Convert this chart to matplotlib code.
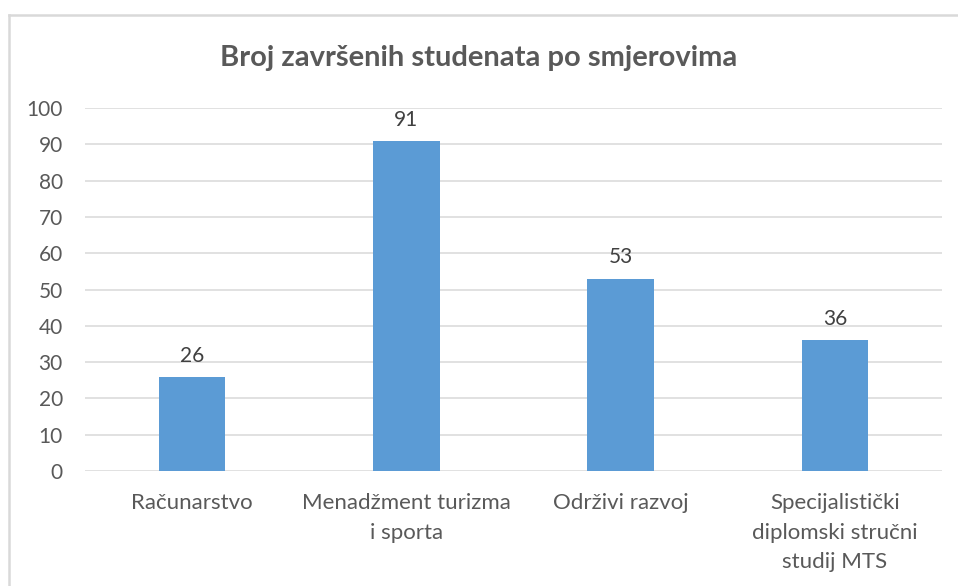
import matplotlib.pyplot as plt
from matplotlib.lines import Line2D

# podaci
smjerovi = ["Računarstvo", "Menadžment turizma\ni sporta", "Održivi razvoj",
            "Specijalistički\ndiplomski stručni\nstudij MTS"]
broj_studenata = [26, 91, 53, 36]
y_ticks = list(range(0, 101, 10))

W, H = 958, 586
plt.rcParams['font.family'] = ['Lato', 'DejaVu Sans']
text_color = "#595959"

fig = plt.figure(figsize=(W / 100, H / 100), dpi=100)
ax = fig.add_axes([85 / W, (H - 471) / H, (942 - 85) / W, (471 - 108) / H])

x = range(len(smjerovi))
bars = ax.bar(x, broj_studenata, width=0.31, color="#5B9BD5", zorder=3)

ax.set_ylim(0, 100)
ax.set_xlim(-0.5, len(smjerovi) - 0.5)
ax.set_yticks(y_ticks)
ax.set_yticklabels([str(t) for t in y_ticks], fontsize=15, color=text_color)
ax.set_xticks(list(x))
ax.set_xticklabels(smjerovi, fontsize=16, color=text_color, linespacing=1.6)
ax.tick_params(axis="both", length=0)
ax.tick_params(axis="y", pad=16)
ax.tick_params(axis="x", pad=16)
ax.yaxis.grid(True, color="#D9D9D9", linewidth=1.1, zorder=0)
for s in ax.spines.values():
    s.set_visible(False)

# oznake vrijednosti iznad stupaca
for rect, v in zip(bars, broj_studenata):
    ax.annotate(str(v), (rect.get_x() + rect.get_width() / 2, v),
                xytext=(0, 8), textcoords="offset points",
                ha="center", va="bottom", fontsize=15, color="#404040")

fig.text(0.5, (H - 58) / H, "Broj završenih studenata po smjerovima",
         ha="center", va="center", fontsize=21, fontweight="bold", color=text_color)

# okvir grafikona (samo lijevi i gornji rub su vidljivi)
fig.add_artist(Line2D([9 / W, 1], [(H - 15) / H, (H - 15) / H],
                      transform=fig.transFigure, color="#D9D9D9", linewidth=1.8))
fig.add_artist(Line2D([9 / W, 9 / W], [0, (H - 15) / H],
                      transform=fig.transFigure, color="#D9D9D9", linewidth=1.8))

fig.savefig("out.png", dpi=100)
